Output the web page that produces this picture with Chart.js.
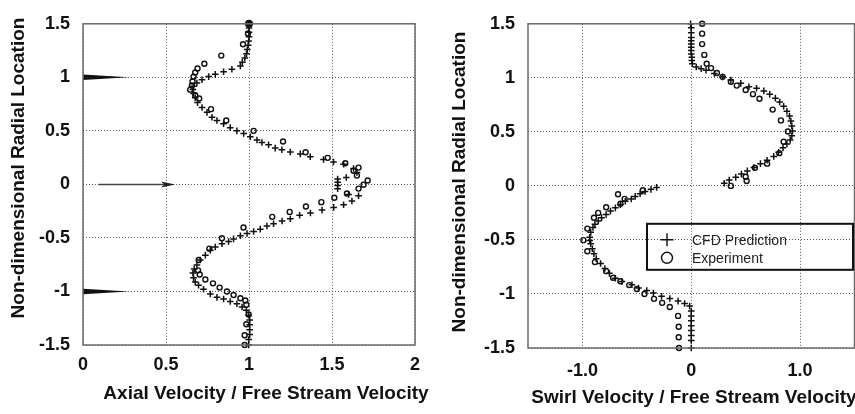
<!DOCTYPE html>
<html>
<head>
<meta charset="utf-8">
<script src="https://cdn.jsdelivr.net/npm/chart.js@4.4.1/dist/chart.umd.min.js"></script>
<style>
  html, body { margin: 0; padding: 0; background: #fff; overflow: hidden; }
  #wrap { position: relative; width: 855px; height: 414px; overflow: hidden; }
  canvas { position: absolute; top: 0; }
  #axial { left: 0; }
  #swirl { left: 430px; }
</style>
</head>
<body>
<div id="wrap">
  <canvas id="axial" width="430" height="414"></canvas>
  <canvas id="swirl" width="430" height="414"></canvas>
</div>
<script>
// [velocity, radial location]
const axialCfd = [
  [1.0,1.5],[1.0,1.46],[1.0,1.42],[1.0,1.38],[0.998,1.34],[0.995,1.3],[0.99,1.26],[0.985,1.22],[0.975,1.18],[0.96,1.14],
  [0.948,1.106],[0.897,1.075],[0.847,1.052],[0.797,1.028],[0.757,1.007],[0.717,0.977],[0.686,0.947],[0.666,0.917],[0.662,0.887],[0.666,0.848],
  [0.676,0.809],[0.69,0.764],[0.717,0.718],[0.747,0.673],[0.777,0.627],[0.807,0.597],[0.847,0.567],[0.887,0.53],[0.927,0.5],[0.968,0.476],
  [1.008,0.445],[1.048,0.415],[1.078,0.391],[1.118,0.37],[1.158,0.339],[1.198,0.324],[1.249,0.303],[1.309,0.285],[1.369,0.258],[1.449,0.233],
  [1.509,0.209],[1.57,0.188],[1.63,0.148],[1.65,0.112],[1.586,0.064],[1.534,0.05],[1.534,0.02],[1.534,-0.01],[1.534,-0.04],[1.6,-0.094],
  [1.66,-0.106],[1.62,-0.155],[1.57,-0.19],[1.51,-0.215],[1.44,-0.24],[1.37,-0.267],[1.305,-0.288],[1.249,-0.321],[1.199,-0.342],[1.148,-0.367],
  [1.108,-0.388],[1.068,-0.418],[1.028,-0.44],[0.988,-0.458],[0.948,-0.479],[0.907,-0.509],[0.877,-0.533],[0.837,-0.555],[0.797,-0.585],[0.767,-0.615],
  [0.737,-0.661],[0.706,-0.706],[0.686,-0.752],[0.67,-0.791],[0.662,-0.827],[0.666,-0.873],[0.676,-0.912],[0.696,-0.942],[0.726,-0.979],[0.767,-1.024],
  [0.807,-1.055],[0.847,-1.07],[0.887,-1.094],[0.927,-1.115],[0.958,-1.145],[0.984,-1.176],[0.998,-1.221],[1.004,-1.267],[1.004,-1.312],[1.004,-1.357],
  [1.004,-1.403],[0.998,-1.448],[0.998,-1.5]
];
const axialExp = [
  [1.0,1.5],[0.994,1.409],[0.964,1.309],[0.833,1.203],[0.731,1.127],[0.69,1.082],[0.676,1.045],[0.666,1.006],[0.66,0.961],[0.656,0.924],
  [0.646,0.885],[0.676,0.833],[0.7,0.803],[0.771,0.703],[0.863,0.597],[1.028,0.5],[1.205,0.4],[1.341,0.3],[1.474,0.248],[1.58,0.197],
  [1.66,0.157],[1.63,0.127],[1.65,0.082],[1.715,0.036],[1.69,-0.003],[1.66,-0.039],[1.59,-0.085],[1.514,-0.124],[1.436,-0.166],[1.343,-0.206],
  [1.245,-0.257],[1.14,-0.303],[0.967,-0.403],[0.837,-0.503],[0.761,-0.6],[0.697,-0.706],[0.693,-0.803],[0.703,-0.842],[0.737,-0.888],[0.783,-0.924],
  [0.823,-0.964],[0.867,-1.0],[0.907,-1.033],[0.948,-1.064],[0.978,-1.085],[0.984,-1.124],[0.998,-1.215],[0.984,-1.306],[0.974,-1.409],[0.974,-1.5]
];
const swirlCfd = [
  [-0.006,1.5],[0.0,1.464],[0.0,1.418],[0.0,1.373],[0.0,1.343],[0.0,1.312],[0.0,1.282],[0.0,1.252],[0.0,1.221],[0.005,1.191],
  [0.005,1.161],[0.01,1.13],[0.046,1.1],[0.091,1.085],[0.136,1.07],[0.212,1.04],[0.288,1.009],[0.364,0.979],[0.455,0.949],[0.53,0.918],
  [0.6,0.903],[0.667,0.879],[0.721,0.848],[0.773,0.812],[0.812,0.776],[0.849,0.737],[0.879,0.691],[0.903,0.646],[0.915,0.6],[0.924,0.555],
  [0.93,0.509],[0.924,0.464],[0.909,0.424],[0.879,0.388],[0.843,0.352],[0.803,0.312],[0.758,0.273],[0.697,0.237],[0.636,0.206],[0.576,0.17],
  [0.515,0.139],[0.461,0.109],[0.409,0.079],[0.349,0.055],[0.303,0.025],
  [-0.318,-0.014],[-0.37,-0.032],[-0.424,-0.052],[-0.47,-0.073],[-0.515,-0.097],[-0.551,-0.121],[-0.606,-0.142],[-0.651,-0.173],[-0.697,-0.203],[-0.742,-0.233],
  [-0.782,-0.264],[-0.824,-0.294],[-0.855,-0.324],[-0.885,-0.355],[-0.903,-0.385],[-0.924,-0.43],[-0.933,-0.476],[-0.933,-0.506],[-0.924,-0.536],[-0.909,-0.582],
  [-0.894,-0.627],[-0.873,-0.673],[-0.833,-0.718],[-0.794,-0.764],[-0.752,-0.809],[-0.697,-0.855],[-0.636,-0.885],[-0.545,-0.915],[-0.485,-0.945],[-0.409,-0.969],
  [-0.348,-0.991],[-0.273,-1.021],[-0.197,-1.042],[-0.121,-1.066],[-0.061,-1.088],[-0.015,-1.112],[0.0,-1.157],[0.0,-1.203],[0.0,-1.248],[0.0,-1.294],
  [0.0,-1.339],[0.0,-1.385],[0.0,-1.43],[0.0,-1.5]
];
const swirlExp = [
  [0.1,1.5],[0.1,1.409],[0.1,1.312],[0.12,1.212],[0.142,1.13],[0.182,1.09],[0.236,1.045],[0.288,1.009],[0.364,0.964],[0.418,0.928],
  [0.5,0.888],[0.567,0.849],[0.627,0.806],[0.748,0.706],[0.824,0.606],[0.888,0.503],[0.849,0.409],[0.809,0.303],[0.697,0.206],[0.585,0.167],
  [0.5,0.085],[0.509,0.046],[0.364,0.0],
  [-0.445,-0.04],[-0.673,-0.077],[-0.612,-0.12],[-0.651,-0.165],[-0.782,-0.198],[-0.855,-0.25],[-0.894,-0.295],[-0.955,-0.395],[-0.991,-0.502],[-0.955,-0.605],
  [-0.885,-0.705],[-0.782,-0.789],[-0.718,-0.85],[-0.651,-0.883],[-0.57,-0.918],[-0.5,-0.954],[-0.43,-1.0],[-0.342,-1.045],[-0.267,-1.082],[-0.197,-1.121],
  [-0.121,-1.203],[-0.115,-1.303],[-0.115,-1.4],[-0.112,-1.5]
];

const radialTicks = [-1.5, -1, -0.5, 0, 0.5, 1, 1.5];
const radialTickLabels = ['-1.5', '-1', '-0.5', '0', '0.5', '1', '1.5'];
const axialTicks = [0, 0.5, 1, 1.5, 2];
const axialTickLabels = ['0', '0.5', '1', '1.5', '2'];
const swirlTicks = [-1, 0, 1];
const swirlTickLabels = ['-1.0', '0', '1.0'];
const inletJets = [1, -1];

const INK = '#111';
const FONT = '"Liberation Sans", Arial, Helvetica, sans-serif';

const toXY = arr => arr.map(p => ({ x: p[0], y: p[1] }));

function cfdSet(arr) {
  return {
    label: 'CFD Prediction',
    data: toXY(arr),
    pointStyle: 'cross',
    radius: 3.3,
    borderWidth: 1.5,
    borderColor: INK,
    backgroundColor: INK,
    showLine: false,
    clip: false
  };
}

function expSet(arr, fillFirst) {
  return {
    label: 'Experiment',
    data: toXY(arr),
    pointStyle: 'circle',
    radius: c => (fillFirst && c.dataIndex === 0) ? 3.3 : 2.5,
    borderWidth: 1.4,
    borderColor: INK,
    backgroundColor: c => (fillFirst && c.dataIndex === 0) ? INK : 'rgba(0,0,0,0)',
    showLine: false,
    clip: false
  };
}

function scale(min, max, ticks, labels, pad, fit) {
  return {
    type: 'linear',
    min: min,
    max: max,
    afterBuildTicks: s => { s.ticks = ticks.map(v => ({ value: v })); },
    afterFit: fit,
    ticks: {
      autoSkip: false,
      padding: pad,
      color: INK,
      font: { family: FONT, size: 18, weight: 'bold' },
      callback: (v, i) => labels[i]
    },
    grid: { color: '#555', lineWidth: 1, drawTicks: false },
    border: { display: false, dash: [1, 2] }
  };
}

// frame, axis titles, inlet markers and legend for one panel
function panel(cfg) {
  return {
    id: 'panel',
    beforeDatasetsDraw(chart) {
      if (!cfg.inlet) return;
      const { ctx, scales: { x, y } } = chart;
      ctx.save();
      ctx.fillStyle = INK;
      inletJets.forEach(r => {
        ctx.beginPath();
        ctx.moveTo(x.getPixelForValue(0), y.getPixelForValue(r + 0.026));
        ctx.lineTo(x.getPixelForValue(0.275), y.getPixelForValue(r));
        ctx.lineTo(x.getPixelForValue(0), y.getPixelForValue(r - 0.026));
        ctx.closePath();
        ctx.fill();
      });
      // centreline arrow
      const y0 = y.getPixelForValue(0);
      ctx.strokeStyle = '#444';
      ctx.lineWidth = 1.5;
      ctx.beginPath();
      ctx.moveTo(x.getPixelForValue(0.094), y0);
      ctx.lineTo(x.getPixelForValue(0.5), y0);
      ctx.stroke();
      ctx.fillStyle = '#222';
      ctx.beginPath();
      ctx.moveTo(x.getPixelForValue(0.556), y0);
      ctx.lineTo(x.getPixelForValue(0.47), y0 - 3);
      ctx.lineTo(x.getPixelForValue(0.49), y0);
      ctx.lineTo(x.getPixelForValue(0.47), y0 + 3);
      ctx.closePath();
      ctx.fill();
      ctx.restore();
    },
    afterDraw(chart) {
      const { ctx, chartArea: a } = chart;
      ctx.save();
      ctx.strokeStyle = '#6b6b6b';
      ctx.lineWidth = 1.5;
      ctx.strokeRect(a.left, a.top, a.right - a.left, a.bottom - a.top);

      ctx.fillStyle = INK;
      ctx.font = 'bold 19px ' + FONT;
      ctx.textAlign = 'center';
      ctx.textBaseline = 'middle';
      ctx.fillText(cfg.xTitle, cfg.xTitleAt[0], cfg.xTitleAt[1]);
      ctx.save();
      ctx.translate(cfg.yTitleAt[0], cfg.yTitleAt[1]);
      ctx.rotate(-Math.PI / 2);
      ctx.fillText(cfg.yTitle, 0, 0);
      ctx.restore();

      if (cfg.legend) {
        const bx = a.left + 119, by = a.top + 200, bw = 206, bh = 46;
        ctx.strokeStyle = INK;
        ctx.lineWidth = 2;
        ctx.strokeRect(bx, by, bw, bh);
        ctx.lineWidth = 1.4;
        const sets = chart.data.datasets;
        sets.forEach((ds, i) => {
          const my = by + 16 + i * 18;
          const mx = bx + 20;
          ctx.beginPath();
          if (ds.pointStyle === 'cross') {
            ctx.moveTo(mx - 6.5, my); ctx.lineTo(mx + 6.5, my);
            ctx.moveTo(mx, my - 6.5); ctx.lineTo(mx, my + 6.5);
          } else {
            ctx.arc(mx, my, 5.5, 0, Math.PI * 2);
          }
          ctx.stroke();
          ctx.fillStyle = '#222';
          ctx.font = '14px ' + FONT;
          ctx.textAlign = 'left';
          ctx.fillText(ds.label, bx + 45, my + 1);
        });
      }
      ctx.restore();
    }
  };
}

Chart.defaults.animation = false;

new Chart(document.getElementById('axial'), {
  type: 'scatter',
  data: { datasets: [cfdSet(axialCfd), expSet(axialExp, true)] },
  options: {
    responsive: false,
    devicePixelRatio: 1,
    layout: { padding: { top: 14, right: 15, left: 0, bottom: 0 } },
    plugins: { legend: { display: false }, tooltip: { enabled: false } },
    scales: {
      x: scale(0, 2, axialTicks, axialTickLabels, 9, s => { s.height = 69; }),
      y: scale(-1.5, 1.5, radialTicks, radialTickLabels, 13, s => { s.width = 83; })
    }
  },
  plugins: [panel({
    inlet: true,
    xTitle: 'Axial Velocity / Free Stream Velocity',
    xTitleAt: [266, 394],
    yTitle: 'Non-dimensional Radial Location',
    yTitleAt: [19, 168]
  })]
});

new Chart(document.getElementById('swirl'), {
  type: 'scatter',
  data: { datasets: [cfdSet(swirlCfd), expSet(swirlExp, false)] },
  options: {
    responsive: false,
    devicePixelRatio: 1,
    layout: { padding: { top: 16, right: 2, left: 0, bottom: 0 } },
    plugins: { legend: { display: false }, tooltip: { enabled: false } },
    scales: {
      x: scale(-1.5, 1.5, swirlTicks, swirlTickLabels, 12, s => { s.height = 66; }),
      y: scale(-1.5, 1.5, radialTicks, radialTickLabels, 13, s => { s.width = 98; })
    }
  },
  plugins: [panel({
    legend: true,
    xTitle: 'Swirl Velocity / Free Stream Velocity',
    xTitleAt: [264, 398],
    yTitle: 'Non-dimensional Radial Location',
    yTitleAt: [30, 182]
  })]
});
</script>
</body>
</html>
